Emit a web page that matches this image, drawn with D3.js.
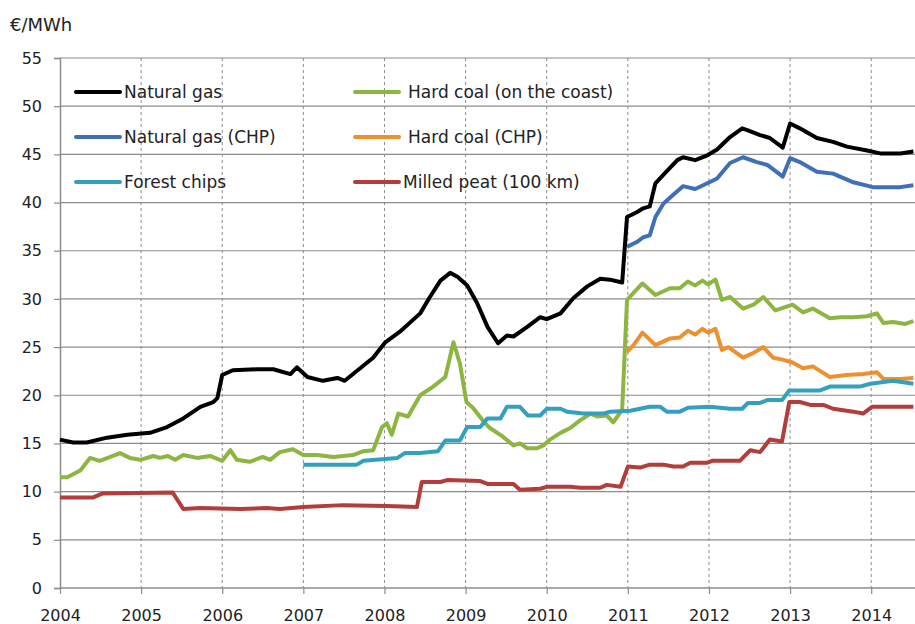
<!DOCTYPE html>
<html>
<head>
<meta charset="utf-8">
<style>
  body { margin: 0; background: #fff; }
  svg { display: block; font-family: "DejaVu Sans", sans-serif; }
</style>
</head>
<body>
<svg width="915" height="624"></svg>
<script src="https://d3js.org/d3.v7.min.js"></script>
<script>
// time in decimal years, values in €/MWh
var gasT = [2004.00, 2004.16, 2004.33, 2004.58, 2004.83, 2005.11, 2005.32, 2005.52, 2005.73, 2005.89, 2005.94, 2006.00, 2006.13, 2006.43, 2006.63, 2006.84, 2006.92, 2007.05, 2007.24, 2007.42, 2007.51, 2007.70, 2007.86, 2008.01, 2008.19, 2008.44, 2008.56, 2008.69, 2008.81, 2008.90, 2009.02, 2009.14, 2009.27, 2009.40, 2009.51, 2009.59, 2009.76, 2009.92, 2010.00, 2010.17, 2010.33, 2010.50, 2010.66, 2010.78, 2010.93, 2010.99, 2011.11, 2011.19, 2011.27, 2011.34, 2011.44, 2011.61, 2011.68, 2011.83, 2011.98, 2012.10, 2012.26, 2012.41, 2012.48, 2012.63, 2012.75, 2012.91, 2013.00, 2013.12, 2013.33, 2013.53, 2013.70, 2013.95, 2014.11, 2014.36, 2014.52];
var gasV = [15.4, 15.1, 15.1, 15.6, 15.9, 16.1, 16.7, 17.6, 18.8, 19.3, 19.7, 22.1, 22.6, 22.7, 22.7, 22.2, 22.9, 21.9, 21.5, 21.8, 21.5, 22.8, 23.9, 25.5, 26.6, 28.5, 30.2, 31.9, 32.7, 32.3, 31.4, 29.6, 27.1, 25.4, 26.2, 26.1, 27.1, 28.1, 27.9, 28.5, 30.1, 31.3, 32.1, 32.0, 31.7, 38.5, 39.0, 39.4, 39.6, 42.0, 42.9, 44.4, 44.7, 44.4, 44.9, 45.5, 46.8, 47.7, 47.5, 47.0, 46.7, 45.7, 48.2, 47.7, 46.7, 46.3, 45.8, 45.4, 45.1, 45.1, 45.3];

var gasChpT = [2010.99, 2011.11, 2011.19, 2011.27, 2011.34, 2011.44, 2011.56, 2011.68, 2011.83, 2011.98, 2012.10, 2012.26, 2012.42, 2012.59, 2012.72, 2012.91, 2013.00, 2013.12, 2013.33, 2013.53, 2013.78, 2014.02, 2014.36, 2014.52];
var gasChpV = [35.4, 35.9, 36.4, 36.6, 38.5, 39.9, 40.8, 41.7, 41.4, 42.0, 42.5, 44.1, 44.7, 44.2, 43.9, 42.7, 44.6, 44.2, 43.2, 43.0, 42.1, 41.6, 41.6, 41.8];

var chipsT = [2007.00, 2007.66, 2007.74, 2008.16, 2008.25, 2008.44, 2008.66, 2008.75, 2008.93, 2009.02, 2009.18, 2009.27, 2009.43, 2009.51, 2009.67, 2009.77, 2009.92, 2010.00, 2010.17, 2010.25, 2010.45, 2010.70, 2010.78, 2011.03, 2011.27, 2011.40, 2011.48, 2011.64, 2011.74, 2012.01, 2012.26, 2012.41, 2012.48, 2012.63, 2012.72, 2012.90, 2012.99, 2013.37, 2013.49, 2013.86, 2013.99, 2014.27, 2014.52];
var chipsV = [12.8, 12.8, 13.2, 13.5, 14.0, 14.0, 14.2, 15.3, 15.3, 16.7, 16.7, 17.6, 17.6, 18.8, 18.8, 17.9, 17.9, 18.6, 18.6, 18.3, 18.1, 18.1, 18.3, 18.4, 18.8, 18.8, 18.3, 18.3, 18.7, 18.8, 18.6, 18.6, 19.2, 19.2, 19.5, 19.5, 20.5, 20.5, 20.9, 20.9, 21.2, 21.5, 21.2];

var coalT = [2004.00, 2004.09, 2004.25, 2004.37, 2004.49, 2004.62, 2004.74, 2004.86, 2004.99, 2005.15, 2005.23, 2005.33, 2005.42, 2005.52, 2005.69, 2005.85, 2006.00, 2006.10, 2006.18, 2006.34, 2006.50, 2006.59, 2006.71, 2006.87, 2007.00, 2007.17, 2007.37, 2007.61, 2007.74, 2007.86, 2007.97, 2008.03, 2008.09, 2008.17, 2008.29, 2008.44, 2008.60, 2008.75, 2008.85, 2008.93, 2009.01, 2009.09, 2009.22, 2009.30, 2009.46, 2009.59, 2009.67, 2009.76, 2009.88, 2009.96, 2010.04, 2010.17, 2010.29, 2010.41, 2010.54, 2010.62, 2010.74, 2010.82, 2010.93, 2010.99, 2011.18, 2011.34, 2011.52, 2011.64, 2011.74, 2011.83, 2011.92, 2011.99, 2012.08, 2012.16, 2012.26, 2012.42, 2012.55, 2012.67, 2012.82, 2013.03, 2013.16, 2013.28, 2013.49, 2013.62, 2013.78, 2013.95, 2014.07, 2014.15, 2014.27, 2014.42, 2014.52];
var coalV = [11.5, 11.5, 12.2, 13.5, 13.2, 13.6, 14.0, 13.5, 13.3, 13.7, 13.5, 13.7, 13.3, 13.8, 13.5, 13.7, 13.2, 14.3, 13.3, 13.1, 13.6, 13.3, 14.1, 14.4, 13.8, 13.8, 13.6, 13.8, 14.2, 14.3, 16.7, 17.1, 15.9, 18.1, 17.8, 20.0, 20.9, 21.9, 25.5, 23.3, 19.3, 18.7, 17.3, 16.6, 15.7, 14.8, 15.0, 14.5, 14.5, 14.8, 15.4, 16.1, 16.6, 17.4, 18.1, 17.8, 17.9, 17.2, 18.5, 29.9, 31.6, 30.4, 31.1, 31.1, 31.8, 31.4, 31.9, 31.5, 32.0, 29.9, 30.2, 29.0, 29.4, 30.2, 28.8, 29.4, 28.6, 29.0, 28.0, 28.1, 28.1, 28.2, 28.5, 27.5, 27.6, 27.4, 27.7];

var coalChpT = [2010.99, 2011.07, 2011.18, 2011.34, 2011.52, 2011.64, 2011.74, 2011.83, 2011.92, 2011.99, 2012.08, 2012.16, 2012.24, 2012.42, 2012.55, 2012.67, 2012.79, 2012.91, 2013.03, 2013.16, 2013.28, 2013.49, 2013.70, 2013.90, 2014.07, 2014.15, 2014.36, 2014.52];
var coalChpV = [24.5, 25.2, 26.5, 25.2, 25.9, 26.0, 26.7, 26.3, 26.9, 26.5, 26.9, 24.7, 25.0, 23.9, 24.4, 25.0, 23.9, 23.7, 23.4, 22.8, 23.0, 21.9, 22.1, 22.2, 22.4, 21.7, 21.7, 21.8];

var peatT = [2004.00, 2004.41, 2004.52, 2005.39, 2005.52, 2005.73, 2006.22, 2006.55, 2006.71, 2007.00, 2007.49, 2008.03, 2008.40, 2008.46, 2008.69, 2008.77, 2009.18, 2009.27, 2009.59, 2009.67, 2009.92, 2010.00, 2010.29, 2010.41, 2010.66, 2010.74, 2010.91, 2011.00, 2011.15, 2011.27, 2011.44, 2011.56, 2011.68, 2011.77, 2011.98, 2012.04, 2012.38, 2012.51, 2012.63, 2012.75, 2012.90, 2012.99, 2013.12, 2013.25, 2013.41, 2013.53, 2013.78, 2013.90, 2014.01, 2014.52];
var peatV = [9.4, 9.4, 9.8, 9.9, 8.2, 8.3, 8.2, 8.3, 8.2, 8.4, 8.6, 8.5, 8.4, 11.0, 11.0, 11.2, 11.1, 10.8, 10.8, 10.2, 10.3, 10.5, 10.5, 10.4, 10.4, 10.7, 10.5, 12.6, 12.5, 12.8, 12.8, 12.6, 12.6, 13.0, 13.0, 13.2, 13.2, 14.3, 14.1, 15.4, 15.2, 19.3, 19.3, 19.0, 19.0, 18.6, 18.3, 18.1, 18.8, 18.8];

var years = d3.range(2004, 2015);
var yTicks = d3.range(0, 56, 5);

var series = [
  { name: "Natural gas", t: gasT, v: gasV, color: "#000000" },
  { name: "Natural gas (CHP)", t: gasChpT, v: gasChpV, color: "#3f6fb7" },
  { name: "Forest chips", t: chipsT, v: chipsV, color: "#33a0c0" },
  { name: "Hard coal (on the coast)", t: coalT, v: coalV, color: "#8db541" },
  { name: "Hard coal (CHP)", t: coalChpT, v: coalChpV, color: "#ef902f" },
  { name: "Milled peat (100 km)", t: peatT, v: peatV, color: "#b33d3b" }
];

var svg = d3.select("svg");
var x = d3.scaleLinear().domain([2004, 2014.54]).range([60, 915]);
var y = d3.scaleLinear().domain([0, 55]).range([588, 58]);

// horizontal grid
svg.append("g")
  .selectAll("line")
  .data(yTicks.slice(1))
  .enter().append("line")
  .attr("x1", x(2004)).attr("x2", 915)
  .attr("y1", y).attr("y2", y)
  .attr("stroke", "#8c8c8c").attr("stroke-width", 1.2);

// vertical dashed grid
svg.append("g")
  .selectAll("line")
  .data(years.slice(1))
  .enter().append("line")
  .attr("x1", x).attr("x2", x)
  .attr("y1", y(55)).attr("y2", y(0))
  .attr("stroke", "#8c8c8c").attr("stroke-width", 1)
  .attr("stroke-dasharray", "3,3");

// y axis
var yAxis = svg.append("g")
  .attr("transform", "translate(" + x(2004) + ",0)")
  .call(d3.axisLeft(y).tickValues(yTicks).tickSize(6).tickPadding(12));
yAxis.select(".domain").attr("stroke", "#8c8c8c").attr("stroke-width", 1.5);
yAxis.selectAll(".tick line").attr("stroke", "#8c8c8c").attr("stroke-width", 1.2);
yAxis.selectAll("text").attr("font-size", 16).attr("fill", "#222").attr("font-family", "DejaVu Sans");

// x axis
var xAxis = svg.append("g")
  .attr("transform", "translate(0," + y(0) + ")")
  .call(d3.axisBottom(x).tickValues(years).tickFormat(d3.format("d")).tickSize(6).tickPadding(16));
xAxis.select(".domain").attr("stroke", "#8c8c8c").attr("stroke-width", 1.5).attr("d", "M60,0H915");
xAxis.selectAll(".tick line").attr("stroke", "#8c8c8c").attr("stroke-width", 1.2);
xAxis.selectAll("text").attr("font-size", 16).attr("fill", "#222").attr("font-family", "DejaVu Sans");

svg.append("text")
  .attr("x", 10).attr("y", 31)
  .attr("font-size", 18).attr("fill", "#222")
  .text("€/MWh");

// lines
var line = d3.line()
  .x(function (d) { return x(d[0]); })
  .y(function (d) { return y(d[1]); });

var order = [4, 3, 2, 5, 1, 0];
svg.append("g")
  .selectAll("path")
  .data(order.map(function (i) { return series[i]; }))
  .enter().append("path")
  .attr("fill", "none")
  .attr("stroke", function (d) { return d.color; })
  .attr("stroke-width", 4)
  .attr("stroke-linejoin", "round")
  .attr("d", function (d) { return line(d3.zip(d.t, d.v)); });

// legend
var legendPos = [
  { lx: 76, tx: 124, ty: 92 },
  { lx: 76, tx: 124, ty: 137 },
  { lx: 76, tx: 124, ty: 182 },
  { lx: 355, tx: 408, ty: 92 },
  { lx: 355, tx: 408, ty: 137 },
  { lx: 355, tx: 403, ty: 182 }
];
var legend = svg.append("g")
  .selectAll("g")
  .data(series)
  .enter().append("g");

legend.append("line")
  .attr("x1", function (d, i) { return legendPos[i].lx; })
  .attr("x2", function (d, i) { return legendPos[i].lx + 44; })
  .attr("y1", function (d, i) { return legendPos[i].ty; })
  .attr("y2", function (d, i) { return legendPos[i].ty; })
  .attr("stroke", function (d) { return d.color; })
  .attr("stroke-width", 4)
  .attr("stroke-linecap", "round");

legend.append("text")
  .attr("x", function (d, i) { return legendPos[i].tx; })
  .attr("y", function (d, i) { return legendPos[i].ty; })
  .attr("dy", "0.35em")
  .attr("font-size", 17)
  .attr("fill", "#222")
  .text(function (d) { return d.name; });
</script>
</body>
</html>
